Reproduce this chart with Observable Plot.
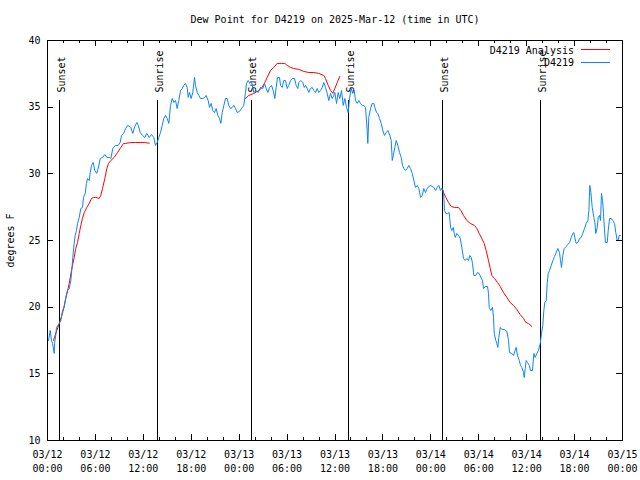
<!DOCTYPE html>
<html>
<head>
<meta charset="utf-8">
<script src="https://cdn.jsdelivr.net/npm/d3@7"></script>
<script src="https://cdn.jsdelivr.net/npm/@observablehq/plot@0.6"></script>
<style>
  html, body { margin: 0; padding: 0; background: white; }
  #chart { position: relative; width: 640px; height: 480px; }
</style>
</head>
<body>
<div id="chart"></div>
<script>
// ---- Data (hours since 2025-03-12 00:00 UTC) ----
const titleText = "Dew Point for D4219 on 2025-Mar-12 (time in UTC)";
const yLabel = "degrees F";
const seriesNames = ["D4219 Analysis", "D4219"];
const seriesColors = ["#ff0000", "#0a84ff"];

const obsHours = [0.13,0.34,0.50,0.63,0.84,0.88,1.00,1.13,1.47,1.67,1.88,2.09,2.29,2.50,2.72,2.92,3.04,3.17,3.34,3.47,3.63,3.76,3.97,4.17,4.38,4.51,4.72,4.88,5.01,5.22,5.35,5.51,5.72,5.92,6.17,6.35,6.60,6.89,7.18,7.43,7.73,7.93,8.18,8.48,8.85,9.10,9.27,9.52,9.80,10.02,10.27,10.43,10.68,10.93,11.18,11.36,11.61,11.90,12.18,12.43,12.74,13.02,13.31,13.52,13.74,13.94,14.15,14.36,14.56,14.78,14.99,15.19,15.40,15.62,15.82,16.03,16.24,16.44,16.66,16.87,17.07,17.28,17.49,17.62,17.78,17.99,18.19,18.41,18.53,18.75,18.95,19.16,19.45,19.70,19.87,20.12,20.29,20.50,20.70,20.91,21.12,21.33,21.54,21.70,21.88,22.08,22.29,22.50,22.70,22.92,23.13,23.33,23.54,23.75,24.04,24.29,24.58,24.79,24.92,25.13,25.33,25.54,25.83,26.13,26.38,26.67,26.96,27.17,27.39,27.59,27.80,28.05,28.26,28.46,28.64,28.80,29.05,29.18,29.39,29.59,29.80,30.01,30.22,30.43,30.64,30.93,31.14,31.34,31.47,31.72,31.97,32.15,32.31,32.52,32.72,32.93,33.14,33.35,33.56,33.77,33.97,34.19,34.40,34.60,34.81,35.02,35.22,35.44,35.65,35.85,35.98,36.19,36.40,36.60,36.82,37.03,37.23,37.44,37.65,37.82,38.03,38.23,38.41,38.57,38.78,38.98,39.19,39.41,39.61,39.82,40.03,40.11,40.23,40.45,40.66,40.86,40.99,41.20,41.36,41.58,41.79,41.99,42.20,42.42,42.62,42.87,43.04,43.17,43.30,43.49,43.67,43.87,44.08,44.29,44.45,44.62,44.83,45.04,45.24,45.45,45.67,45.87,46.08,46.30,46.50,46.71,46.92,47.12,47.33,47.55,47.75,47.96,48.17,48.37,48.59,48.80,49.00,49.21,49.38,49.59,49.71,49.88,50.09,50.30,50.47,50.63,50.81,50.93,51.06,51.26,51.47,51.68,51.88,52.09,52.31,52.51,52.72,52.88,53.06,53.22,53.38,53.63,53.85,54.06,54.26,54.47,54.60,54.81,55.10,55.22,55.31,55.51,55.72,55.85,55.94,56.14,56.26,56.39,56.51,56.69,56.89,57.23,57.52,57.73,57.85,58.14,58.35,58.56,58.69,58.85,59.07,59.23,59.39,59.61,59.69,59.82,59.94,60.11,60.32,60.48,60.73,60.90,61.07,61.27,61.48,61.70,61.86,62.02,62.15,62.27,62.45,62.57,62.70,62.86,63.08,63.28,63.49,63.70,63.90,64.11,64.24,64.36,64.53,64.70,64.95,65.15,65.37,65.58,65.78,65.90,66.03,66.20,66.41,66.62,66.83,67.03,67.24,67.46,67.66,67.79,67.91,68.04,68.21,68.41,68.54,68.66,68.84,68.96,69.12,69.25,69.37,69.50,69.62,69.75,69.87,70.09,70.21,70.38,70.59,70.79,71.00,71.16,71.34,71.46,71.59,71.75];

const obsDew = [17.5,18.25,17.5,17.28,16.53,17.28,17.73,18.48,18.78,19.0,19.75,19.98,20.73,21.25,21.4,22.0,22.75,23.73,24.78,25.38,25.75,26.28,26.73,27.4,27.48,28.23,28.53,29.28,29.65,29.5,30.1,30.63,30.85,30.25,30.03,30.4,31.15,31.23,31.45,31.23,31.23,31.15,31.9,32.13,32.13,32.35,32.88,33.03,33.4,33.63,33.55,33.48,33.03,33.55,33.85,33.63,33.1,32.88,32.73,33.03,32.73,32.95,32.73,32.13,32.35,32.73,33.1,33.63,34.15,34.38,34.15,33.78,35.13,35.65,35.35,35.5,34.9,35.5,36.25,36.4,36.63,36.78,36.48,35.73,36.1,35.65,36.1,37.23,36.63,36.1,35.88,35.65,35.65,35.73,35.88,35.5,34.98,35.28,34.75,34.6,34.9,34.38,34.15,33.78,34.6,35.13,35.65,35.65,35.13,34.9,34.98,35.13,34.9,34.6,34.68,34.9,35.13,36.1,36.78,37.0,36.78,36.93,36.1,36.25,36.1,36.48,36.4,36.78,36.4,36.1,36.48,36.63,36.25,35.65,36.48,37.23,37.23,36.63,36.48,37.0,37.0,36.4,36.63,37.0,37.15,37.15,36.63,36.4,36.85,37.0,36.85,36.48,36.63,36.4,36.1,36.4,36.48,36.25,36.1,36.4,36.1,36.25,36.48,36.85,36.48,36.03,35.5,36.03,35.65,35.88,36.1,35.28,36.1,35.65,36.25,35.13,35.65,34.98,34.6,35.65,36.4,36.03,36.25,35.5,35.28,35.5,35.28,35.13,35.13,34.98,33.25,32.28,34.23,34.9,35.28,35.28,34.98,34.6,34.53,34.15,33.78,33.25,32.88,33.1,33.25,32.88,32.5,31.0,31.38,31.98,32.5,32.13,31.6,31.23,30.63,30.4,30.25,30.4,30.63,30.4,30.03,29.5,28.98,29.13,28.9,28.23,28.38,28.9,28.6,28.9,29.05,29.13,29.05,28.98,28.75,28.98,29.13,28.75,28.9,28.75,27.25,27.03,27.03,27.1,25.98,25.75,25.98,25.53,25.23,25.53,25.38,25.15,24.48,23.65,23.5,23.65,23.5,23.88,23.73,23.28,22.38,22.38,22.6,22.53,22.23,22.0,21.4,21.55,21.55,21.03,19.98,19.75,19.98,19.23,18.03,17.5,17.28,16.98,17.73,18.48,18.33,18.33,18.18,17.5,16.6,16.53,16.38,16.75,16.98,16.38,16.0,15.63,15.48,15.1,14.73,15.4,16.0,15.85,15.63,15.25,15.25,16.53,16.23,16.53,16.75,17.28,18.03,18.63,19.75,20.35,20.5,21.78,22.53,22.75,23.13,23.5,23.8,24.1,24.4,24.1,23.5,22.98,23.88,24.4,24.55,24.7,24.85,25.23,25.53,25.6,25.23,24.78,24.85,25.15,25.23,25.53,25.9,26.28,26.5,27.25,29.13,28.6,27.48,26.73,26.35,25.53,25.98,26.73,26.88,26.5,28.53,28.0,27.03,25.75,24.85,24.85,25.75,26.65,26.65,26.5,26.28,25.6,25.0,25.0,25.38,25.38];

// analysis series; null entries mark gaps in the record
const anaHours = [0.75,1.04,1.47,1.88,2.29,2.72,3.00,3.34,3.54,3.76,3.97,4.17,4.38,4.60,4.92,5.22,5.51,5.76,6.05,6.47,6.67,6.89,7.18,7.43,7.64,7.93,8.35,8.77,9.18,9.52,9.80,10.43,11.06,11.68,12.11,12.74,
  null,
  24.79,25.21,25.83,26.46,26.88,27.21,27.51,27.92,28.34,28.76,29.30,29.72,30.02,30.43,30.84,31.47,32.10,32.72,33.35,33.97,34.60,34.81,35.15,35.44,35.73,35.98,36.28,36.60,
  null,
  49.38,49.59,49.88,50.21,50.55,50.97,51.47,51.76,52.09,52.51,52.93,53.47,53.76,54.06,54.38,54.68,54.93,55.22,55.44,55.64,55.98,56.35,56.69,57.10,57.52,57.94,58.35,58.77,59.19,59.61,59.90,60.23,60.65];
const anaDew = [17.5,18.03,18.78,19.53,20.65,21.78,22.75,23.73,24.4,24.85,25.53,26.13,26.65,27.1,27.48,27.78,28.15,28.23,28.23,28.15,28.38,28.9,29.65,30.4,30.78,31.0,31.23,31.6,31.98,32.28,32.28,32.35,32.35,32.35,32.35,32.3,
  null,
  35.65,35.88,36.03,36.25,36.48,36.85,37.23,37.75,37.98,38.28,38.28,38.28,38.13,37.98,37.9,37.83,37.68,37.6,37.6,37.53,37.38,37.15,36.63,36.25,36.03,36.4,36.85,37.3,
  null,
  28.9,28.6,28.23,27.85,27.55,27.48,27.48,27.25,26.88,26.5,26.28,26.13,25.9,25.53,25.15,24.78,24.25,23.5,22.9,22.38,22.15,21.85,21.55,21.1,20.73,20.35,20.13,19.83,19.45,19.15,18.85,18.78,18.55];

const sunHours = [1.55, 13.81, 25.52, 37.73, 49.52, 61.77];
const sunLabels = ["Sunset", "Sunrise", "Sunset", "Sunrise", "Sunset", "Sunrise"];

const yTicks = [10, 15, 20, 25, 30, 35, 40];

// ---- Build ----
const base = Date.UTC(2025, 2, 12);
const toTime = h => (h == null ? null : new Date(base + h * 3600e3));
const obs = obsHours.map((h, i) => ({time: toTime(h), dew: obsDew[i]}));
const ana = anaHours.map((h, i) => ({time: toTime(h), dew: anaDew[i]}));
const sun = sunHours.map((h, i) => ({time: toTime(h), label: sunLabels[i]}));

const start = toTime(0), end = toTime(72);
const majorTicks = d3.utcHour.every(6).range(start, new Date(+end + 1));
const minorTicks = d3.utcHour.every(2).range(start, new Date(+end + 1));
const frameH = 400, frameW = 575, major = 6, minor = 3;

const chart = Plot.plot({
  width: 640,
  height: 480,
  marginLeft: 47,
  marginRight: 18,
  marginTop: 40,
  marginBottom: 40,
  style: {fontFamily: "'DejaVu Sans Mono', 'Liberation Mono', monospace", fontSize: "10px", color: "black", background: "white"},
  x: {type: "utc", domain: [start, end]},
  y: {domain: [10, 40]},
  marks: [
    // sunrise / sunset markers
    Plot.ruleX(sun, {x: "time", y1: 10, y2: 35.5, stroke: "black", shapeRendering: "crispEdges"}),
    Plot.text(sun, {x: "time", text: "label", frameAnchor: "top", dy: 52, dx: -2, rotate: -90, textAnchor: "start", fill: "black"}),
    // series
    Plot.line(ana, {x: "time", y: "dew", stroke: seriesColors[0], strokeWidth: 1}),
    Plot.line(obs, {x: "time", y: "dew", stroke: seriesColors[1], strokeWidth: 1}),
    // inward ticks (gnuplot style, mirrored)
    Plot.ruleX(majorTicks, {insetTop: frameH - major, stroke: "black", shapeRendering: "crispEdges"}),
    Plot.ruleX(majorTicks, {insetBottom: frameH - major, stroke: "black", shapeRendering: "crispEdges"}),
    Plot.ruleX(minorTicks, {insetTop: frameH - minor, stroke: "black", shapeRendering: "crispEdges"}),
    Plot.ruleX(minorTicks, {insetBottom: frameH - minor, stroke: "black", shapeRendering: "crispEdges"}),
    Plot.ruleY(yTicks, {insetRight: frameW - major, stroke: "black", shapeRendering: "crispEdges"}),
    Plot.ruleY(yTicks, {insetLeft: frameW - major, stroke: "black", shapeRendering: "crispEdges"}),
    Plot.frame({stroke: "black", shapeRendering: "crispEdges"}),
    // axes labels
    Plot.axisX({ticks: majorTicks, tickSize: 0, tickPadding: 8, tickFormat: d3.utcFormat("%m/%d\n%H:%M"), lineHeight: 1.35, label: null}),
    Plot.axisY({ticks: yTicks, tickSize: 0, tickPadding: 7, tickFormat: d => String(d), label: null}),
    Plot.text([titleText], {frameAnchor: "top", dy: -21, lineAnchor: "middle", fill: "black"}),
    Plot.text([yLabel], {frameAnchor: "left", dx: -37, rotate: -90, textAnchor: "middle", fill: "black"})
  ]
});

document.getElementById("chart").appendChild(chart);

// ---- Legend (top right, inside frame) ----
const svg = d3.select(chart);
const legend = svg.append("g").attr("font-family", "'DejaVu Sans Mono', 'Liberation Mono', monospace").attr("font-size", 10);
seriesNames.forEach((name, i) => {
  const y = 50 + i * 12.5;
  legend.append("text").attr("x", 574).attr("y", y).attr("dy", "0.35em").attr("text-anchor", "end").attr("fill", "black").text(name);
  legend.append("line").attr("x1", 581).attr("x2", 610).attr("y1", y - 0.5).attr("y2", y - 0.5)
    .attr("stroke", seriesColors[i]).attr("stroke-width", 1).attr("shape-rendering", "crispEdges");
});
</script>
</body>
</html>
